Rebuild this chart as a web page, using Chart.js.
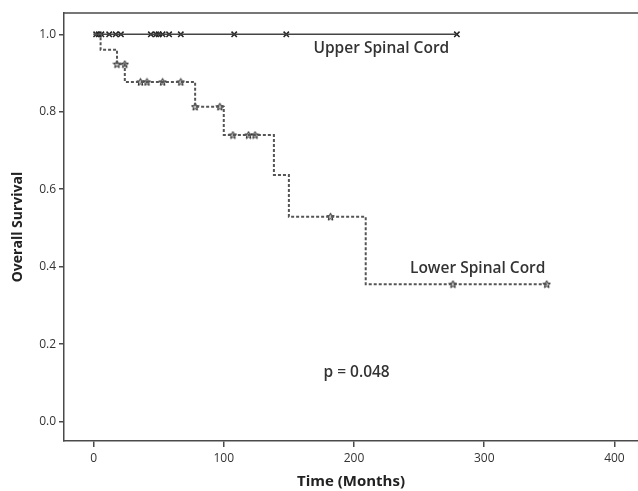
<!DOCTYPE html>
<html>
<head>
<meta charset="utf-8">
<script src="https://cdn.jsdelivr.net/npm/chart.js@4"></script>
<style>
  html, body { margin: 0; padding: 0; background: #fff; }
  #wrap { width: 638px; height: 491px; }
</style>
</head>
<body>
<div id="wrap"><canvas id="km-chart" width="638" height="491"></canvas></div>
<script>
// Upper spinal cord: nobody died, only censored patients
const upperCensorTimes = [2, 4, 6, 12, 17, 21, 44, 48, 50, 53, 58, 67, 108, 148, 279];
const upperEnd = 279;

// Lower spinal cord: step drops (time, survival after drop)
const lowerStepTimes = [0, 5.4, 18, 24, 78, 100, 138.5, 150, 209, 348];
const lowerStepSurv  = [1.0, 0.96, 0.923, 0.877, 0.813, 0.74, 0.637, 0.529, 0.355, 0.355];

// Lower spinal cord censored marks
const lowerCensorTimes = [18, 24, 36, 41, 53, 67, 78, 97, 107, 119, 124, 182, 276, 348];
const lowerCensorSurv  = [0.923, 0.923, 0.877, 0.877, 0.877, 0.877, 0.813, 0.813, 0.74, 0.74, 0.74, 0.529, 0.355, 0.355];

const xTicks = [0, 100, 200, 300, 400];
const yTicks = [0, 0.2, 0.4, 0.6, 0.8, 1.0];

const axisColor = '#4a4a4a';
const textColor = '#333';

// little five-point star for censor marks
function makeStar(size) {
    const c = document.createElement('canvas');
    c.width = size; c.height = size;
    const g = c.getContext('2d');
    const cx = size / 2, cy = size / 2 + 0.3, ro = size / 2 - 0.6, ri = ro * 0.45;
    g.beginPath();
    for (let i = 0; i < 10; i++) {
        const r = i % 2 === 0 ? ro : ri;
        const a = -Math.PI / 2 + i * Math.PI / 5;
        const px = cx + r * Math.cos(a), py = cy + r * Math.sin(a);
        if (i === 0) g.moveTo(px, py); else g.lineTo(px, py);
    }
    g.closePath();
    g.fillStyle = '#c8c8c8';
    g.fill();
    g.strokeStyle = '#222';
    g.lineWidth = 1;
    g.stroke();
    return c;
}
const starImg = makeStar(9);

// frame top line + text annotations
const extras = {
    id: 'extras',
    afterDraw(chart) {
        const { ctx, chartArea, scales } = chart;
        ctx.save();
        ctx.strokeStyle = axisColor;
        ctx.lineWidth = 1.5;
        ctx.beginPath();
        ctx.moveTo(chartArea.left, chartArea.top);
        ctx.lineTo(chart.width, chartArea.top);
        ctx.stroke();

        ctx.fillStyle = textColor;
        ctx.font = '600 15.5px "Open Sans", sans-serif';
        ctx.textAlign = 'center';
        ctx.textBaseline = 'middle';
        ctx.fillText('Upper Spinal Cord', scales.x.getPixelForValue(221), scales.y.getPixelForValue(0.963));
        ctx.fillText('Lower Spinal Cord', scales.x.getPixelForValue(295), scales.y.getPixelForValue(0.395));
        ctx.fillText('p = 0.048', scales.x.getPixelForValue(202), scales.y.getPixelForValue(0.127));
        ctx.restore();
    }
};

const data = {
    datasets: [
        {
            label: 'Lower Spinal Cord',
            data: lowerStepTimes.map((t, i) => ({ x: t, y: lowerStepSurv[i] })),
            showLine: true,
            borderColor: '#555',
            borderWidth: 2,
            borderDash: [3, 2],
            stepped: 'before',
            pointRadius: 0,
            fill: false
        },
        {
            label: 'Upper Spinal Cord',
            data: [{ x: 0, y: 1 }, { x: upperEnd, y: 1 }],
            showLine: true,
            borderColor: '#444',
            borderWidth: 1.5,
            pointRadius: 0,
            fill: false
        },
        {
            label: 'Lower censored',
            data: lowerCensorTimes.map((t, i) => ({ x: t, y: lowerCensorSurv[i] })),
            showLine: false,
            pointStyle: starImg,
            pointRadius: 4.5
        },
        {
            label: 'Upper censored',
            data: upperCensorTimes.map(t => ({ x: t, y: 1 })),
            showLine: false,
            pointStyle: 'crossRot',
            pointRadius: 3.8,
            borderColor: '#222',
            borderWidth: 1.5
        }
    ]
};

const config = {
    type: 'scatter',
    data: data,
    options: {
        responsive: false,
        animation: false,
        layout: { autoPadding: false, padding: { top: 13, right: 0, left: 0, bottom: 0 } },
        plugins: {
            legend: { display: false },
            tooltip: { enabled: false }
        },
        scales: {
            x: {
                type: 'linear',
                min: -22.7,
                max: 418.1,
                afterBuildTicks: s => { s.ticks = xTicks.map(v => ({ value: v })); },
                afterFit: s => { s.height = 50; },
                grid: { drawOnChartArea: false, drawTicks: true, tickLength: 6, color: axisColor, lineWidth: 1.5 },
                border: { display: true, color: axisColor, width: 1.5 },
                ticks: { color: textColor, font: { family: 'Open Sans', size: 12 }, padding: 4, maxRotation: 0 },
                title: {
                    display: true,
                    text: 'Time (Months)',
                    color: '#222',
                    font: { family: 'Open Sans', size: 15, weight: 'bold' },
                    padding: { top: 0, bottom: 0 }
                }
            },
            y: {
                type: 'linear',
                min: -0.05,
                max: 1.055,
                afterBuildTicks: s => { s.ticks = yTicks.map(v => ({ value: v })); },
                afterFit: s => { s.width = 64; },
                grid: { drawOnChartArea: false, drawTicks: true, tickLength: 5, color: axisColor, lineWidth: 1.5 },
                border: { display: true, color: axisColor, width: 1.5 },
                ticks: {
                    color: textColor,
                    font: { family: 'Open Sans', size: 12 },
                    padding: 3,
                    callback: v => Number(v).toFixed(1)
                },
                title: {
                    display: true,
                    text: 'Overall Survival',
                    color: '#222',
                    font: { family: 'Open Sans', size: 14, weight: 'bold' },
                    padding: { top: 10, bottom: 0 }
                }
            }
        }
    },
    plugins: [extras]
};

const kmChart = new Chart(document.getElementById('km-chart').getContext('2d'), config);
</script>
</body>
</html>
